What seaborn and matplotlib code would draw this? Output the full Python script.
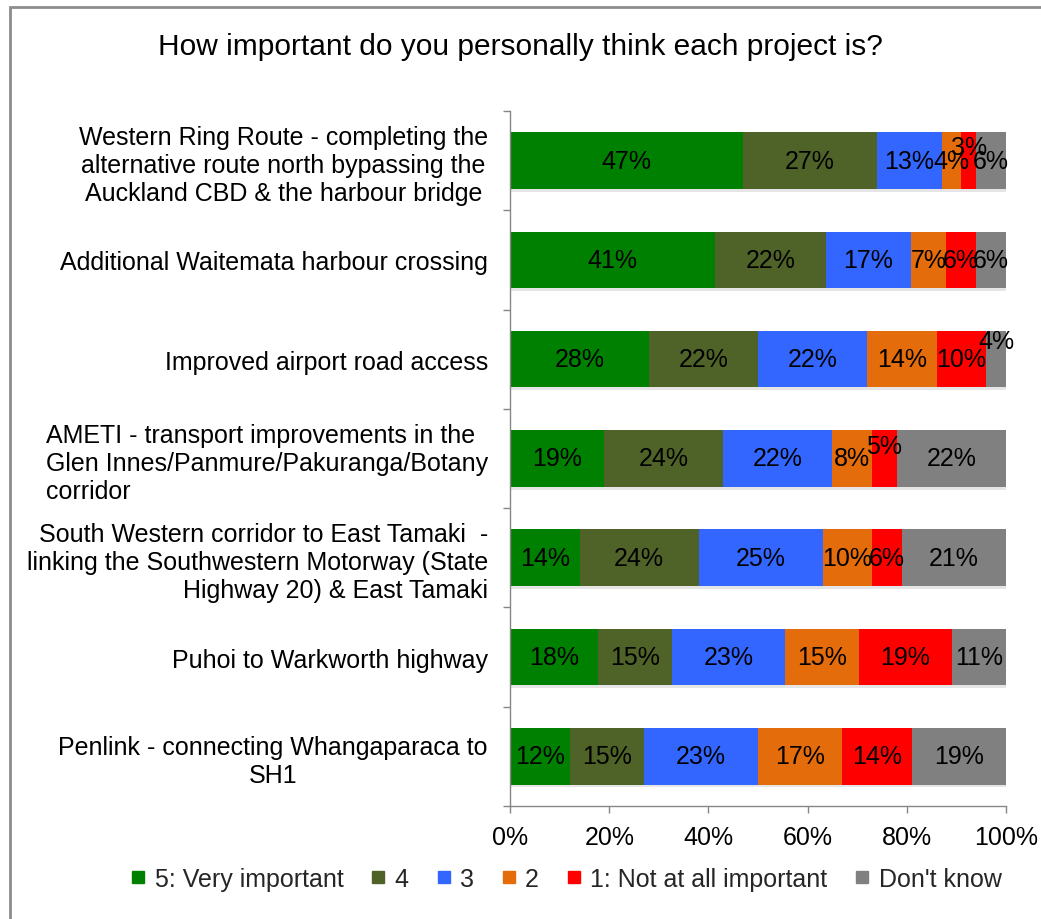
import numpy as np
import pandas as pd
import matplotlib
matplotlib.use("Agg")
import matplotlib.pyplot as plt
import matplotlib.patheffects as pe
from matplotlib.lines import Line2D
from matplotlib.patches import Rectangle
import seaborn as sns

# Survey projects (top to bottom) and response shares in percent
projects = [
    "Western Ring Route - completing the\nalternative route north bypassing the\nAuckland CBD & the harbour bridge",
    "Additional Waitemata harbour crossing",
    "Improved airport road access",
    "AMETI - transport improvements in the\nGlen Innes/Panmure/Pakuranga/Botany\ncorridor",
    "South Western corridor to East Tamaki  -\nlinking the Southwestern Motorway (State\nHighway 20) & East Tamaki",
    "Puhoi to Warkworth highway",
    "Penlink - connecting Whangaparaca to\nSH1",
]
label_align = ["center", "center", "center", "left", "right", "center", "center"]

responses = ["5: Very important", "4", "3", "2", "1: Not at all important", "Don't know"]
very_important = [47, 41, 28, 19, 14, 18, 12]
rating_4 = [27, 22, 22, 24, 24, 15, 15]
rating_3 = [13, 17, 22, 22, 25, 23, 23]
rating_2 = [4, 7, 14, 8, 10, 15, 17]
not_important = [3, 6, 10, 5, 6, 19, 14]
dont_know = [6, 6, 4, 22, 21, 11, 19]

colors = ["#008000", "#4F6228", "#3366FF", "#E46C0A", "#FF0000", "#808080"]

# labels of thin segments that are lifted above the bar to avoid overlap (points)
label_lift = {(0, 4): 10, (2, 5): 13, (3, 4): 9}

sns.set_theme(style="white")
plt.rcParams["font.family"] = ["Liberation Sans", "DejaVu Sans"]

FS = 18

values = np.array([very_important, rating_4, rating_3, rating_2,
                   not_important, dont_know], dtype=float).T
shares = values / values.sum(axis=1, keepdims=True) * 100
cum = np.cumsum(shares, axis=1)

fig = plt.figure(figsize=(10.41, 9.2), dpi=100)
ax = fig.add_axes([0.49, 0.1228, 0.4764, 0.7555])

# 100% stacked bars: draw cumulative totals from the outermost segment inwards
for k in range(len(responses) - 1, -1, -1):
    df = pd.DataFrame({"project": projects, "cum": cum[:, k]})
    n_before = len(ax.patches)
    sns.barplot(data=df, x="cum", y="project", orient="h", color=colors[k],
                saturation=1, width=0.57, ax=ax, linewidth=0, order=projects)
    if k == len(responses) - 1:
        for p in ax.patches[n_before:]:
            p.set_path_effects([pe.SimplePatchShadow(offset=(1.0, -2.0),
                                                     shadow_rgbFace="#707070",
                                                     alpha=0.18),
                                pe.Normal()])

# value labels centred in each segment
for i in range(len(projects)):
    for k in range(len(responses)):
        mid = cum[i, k] - shares[i, k] / 2
        lift = label_lift.get((i, k), 0)
        ax.annotate(f"{int(values[i, k])}%", xy=(mid, i), xytext=(0, lift),
                    textcoords="offset points", ha="center", va="center",
                    fontsize=FS, color="black")

ax.set_xlim(0, 100)
ax.set_ylim(len(projects) - 0.5, -0.5)
ax.set_xticks(np.arange(0, 101, 20))
ax.set_xticklabels([f"{t}%" for t in range(0, 101, 20)])
ax.set_xlabel("")
ax.set_ylabel("")
ax.set_yticks(range(len(projects)))
ax.set_yticklabels(projects)
for lbl, al in zip(ax.get_yticklabels(), label_align):
    lbl.set_multialignment(al)
    lbl.set_linespacing(1.2)
ax.set_yticks(np.arange(-0.5, len(projects), 1), minor=True)

for s in ["top", "right"]:
    ax.spines[s].set_visible(False)
for s in ["left", "bottom"]:
    ax.spines[s].set_color("#868686")
    ax.spines[s].set_linewidth(1.0)

ax.tick_params(axis="y", which="major", length=0, pad=16, labelsize=FS,
               labelcolor="black")
ax.tick_params(axis="y", which="minor", length=5, color="#868686", width=1,
               left=True)
ax.tick_params(axis="x", which="major", length=5, color="#868686", width=1,
               bottom=True, pad=9, labelsize=FS, labelcolor="black")
ax.grid(False)

fig.text(0.5, 1 - 47 / 920, "How important do you personally think each project is?",
         ha="center", va="center", fontsize=21.5, color="black")

handles = [Line2D([], [], marker="s", linestyle="none", markersize=8,
                  markerfacecolor=c, markeredgecolor=c) for c in colors]
fig.legend(handles, responses, loc="center", bbox_to_anchor=(0.544, 1 - 880 / 920),
           ncol=6, frameon=False, fontsize=FS, handlelength=0.6,
           handletextpad=0.35, columnspacing=1.1)

# chart frame
fig.patches.append(Rectangle((10 / 1041, -0.05), 1.1, 1.05 - 8 / 920,
                             transform=fig.transFigure, fill=False,
                             edgecolor="#8C8C8C", linewidth=2))

fig.savefig("out.png", dpi=100)
